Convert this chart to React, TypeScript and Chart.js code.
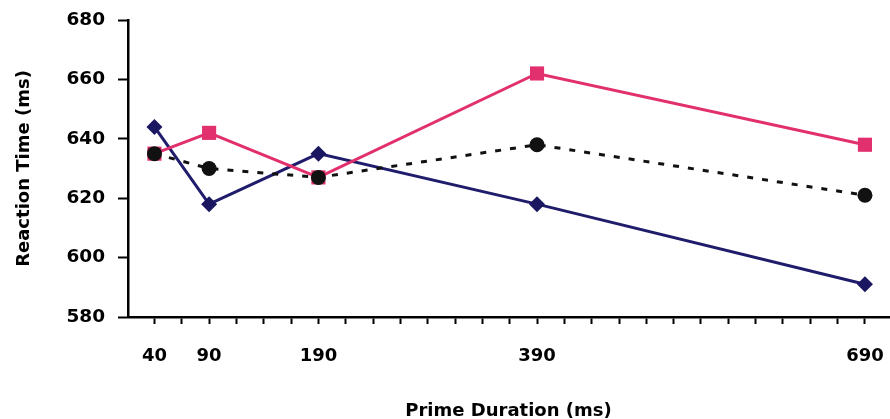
import React, { useEffect, useRef } from "react";
import { Chart, registerables } from "chart.js";

Chart.register(...registerables);

const primeDurations = [40, 90, 190, 390, 690];
const labeledTicks = [40, 90, 190, 390, 690];
const minorTickStart = 40;
const minorTickStep = 25;
const minorTickEnd = 690;

const seriesBlue = [644, 618, 635, 618, 591];
const seriesPink = [635, 642, 627, 662, 638];
const seriesBlack = [635, 630, 627, 638, 621];

const yTicks = [580, 600, 620, 640, 660, 680];

const FONT = "'DejaVu Sans', 'Liberation Sans', Arial, sans-serif";

export default function App() {
  const ref = useRef<HTMLCanvasElement | null>(null);

  useEffect(() => {
    document.body.style.margin = "0";
    const canvas = ref.current;
    if (!canvas) return;
    const toPts = (vals: number[]) => primeDurations.map((x, i) => ({ x, y: vals[i] }));
    const xTickVals: number[] = [];
    for (let v = minorTickStart; v <= minorTickEnd; v += minorTickStep) xTickVals.push(v);

    const chart = new Chart(canvas, {
      type: "line",
      data: {
        datasets: [
          {
            label: "Black",
            data: toPts(seriesBlack),
            borderColor: "#111111",
            backgroundColor: "#111111",
            borderWidth: 3,
            borderDash: [6, 9],
            pointStyle: "circle",
            pointRadius: 7.5,
            pointBorderWidth: 0,
            order: 0,
          },
          {
            label: "Pink",
            data: toPts(seriesPink),
            borderColor: "#e2306f",
            backgroundColor: "#e2306f",
            borderWidth: 3,
            pointStyle: "rect",
            pointRadius: 10,
            pointBorderWidth: 0,
            order: 1,
          },
          {
            label: "Blue",
            data: toPts(seriesBlue),
            borderColor: "#201c6c",
            backgroundColor: "#1a1660",
            borderWidth: 3,
            pointStyle: "rectRot",
            pointRadius: 8,
            pointBorderWidth: 0,
            order: 2,
          },
        ],
      },
      options: {
        responsive: false,
        animation: false,
        layout: { padding: { top: 20, right: 0, left: 0, bottom: 0 } },
        plugins: { legend: { display: false }, tooltip: { enabled: false } },
        scales: {
          x: {
            type: "linear",
            min: 15.8,
            max: 712,
            afterBuildTicks: (scale: any) => {
              scale.ticks = xTickVals.map((v) => ({ value: v }));
            },
            afterFit: (scale: any) => {
              scale.height = 102;
              scale.paddingLeft = 0;
              scale.paddingRight = 0;
            },
            border: { display: true, color: "#000", width: 2.5 },
            grid: {
              drawOnChartArea: false,
              drawTicks: true,
              tickLength: 7,
              tickWidth: 2,
              tickColor: "#000",
            },
            ticks: {
              autoSkip: false,
              maxRotation: 0,
              padding: 22,
              color: "#000",
              font: { family: FONT, size: 18, weight: "bold" },
              callback: (v: any) => (labeledTicks.includes(Number(v)) ? String(v) : ""),
            },
            title: {
              display: true,
              text: "Prime Duration (ms)",
              color: "#000",
              font: { family: FONT, size: 18, weight: "bold" },
              padding: { top: 0, bottom: -3 },
            },
          },
          y: {
            type: "linear",
            min: 580,
            max: 680,
            afterBuildTicks: (scale: any) => {
              scale.ticks = yTicks.map((v) => ({ value: v }));
            },
            afterFit: (scale: any) => {
              scale.width = 128;
              scale.paddingTop = 0;
              scale.paddingBottom = 0;
            },
            border: { display: true, color: "#000", width: 2.5 },
            grid: {
              drawOnChartArea: false,
              drawTicks: true,
              tickLength: 10,
              tickWidth: 2,
              tickColor: "#000",
            },
            ticks: {
              padding: 13,
              color: "#000",
              font: { family: FONT, size: 18.5, weight: "bold" },
            },
            title: {
              display: true,
              text: "Reaction Time (ms)",
              color: "#000",
              font: { family: FONT, size: 18, weight: "bold" },
              padding: { top: 14, bottom: 0 },
            },
          },
        },
      },
    });
    return () => chart.destroy();
  }, []);

  return (
    <div style={{ position: "absolute", left: 0, top: 0, width: 890, height: 419, overflow: "hidden" }}>
      <canvas ref={ref} width={899} height={419} />
    </div>
  );
}
